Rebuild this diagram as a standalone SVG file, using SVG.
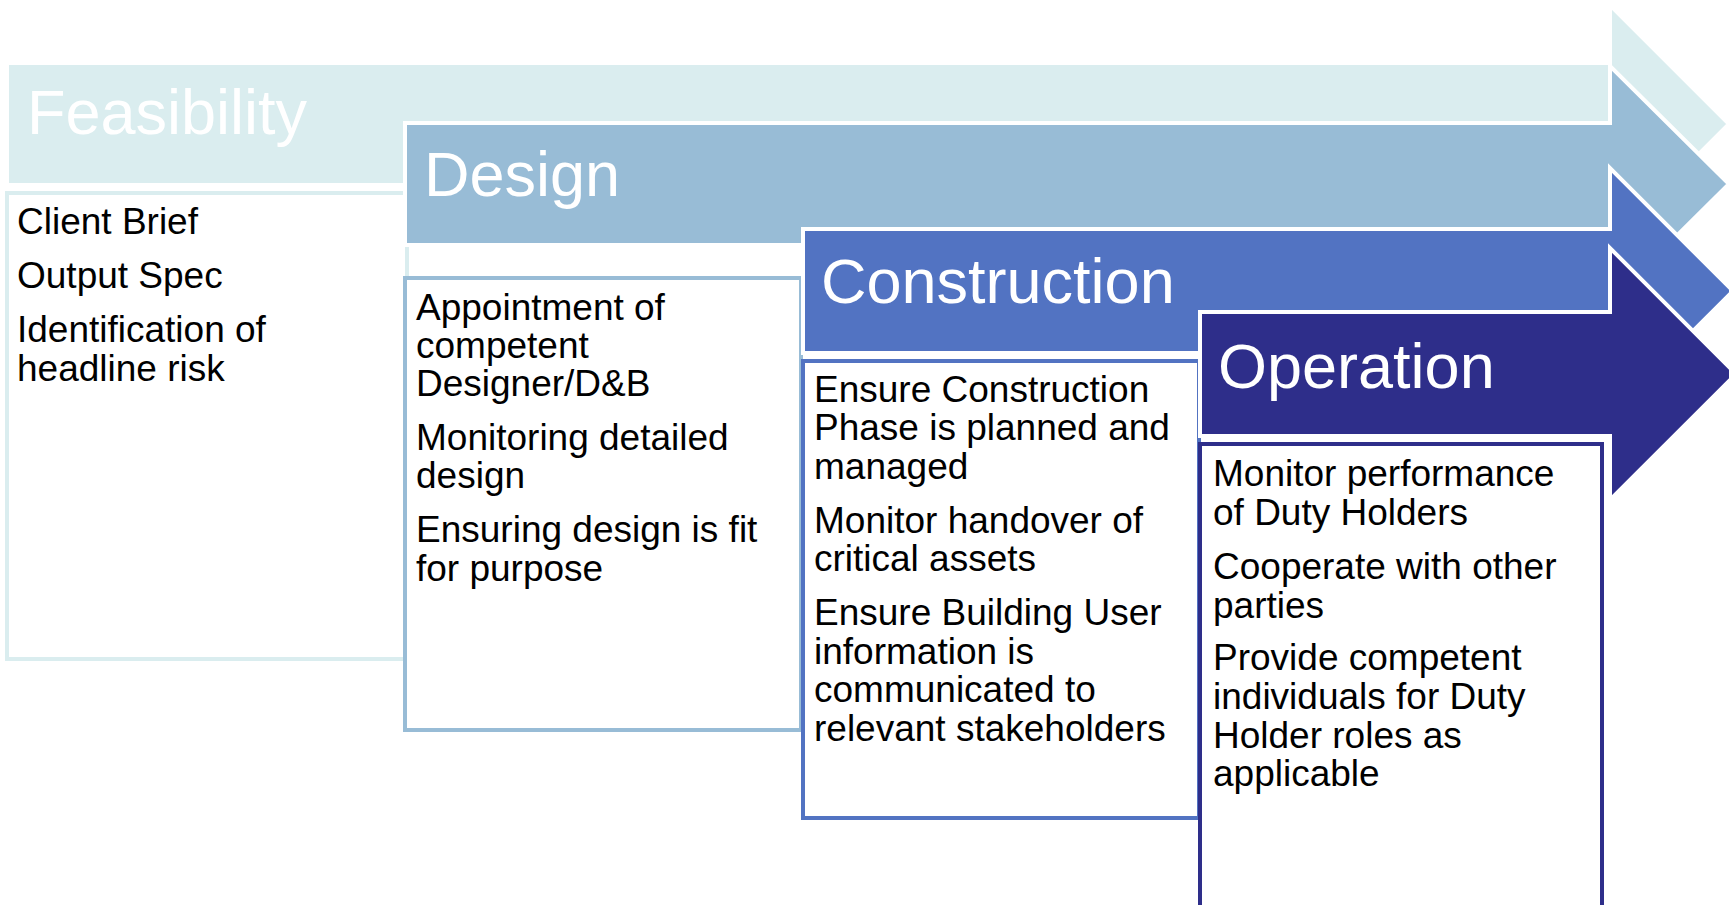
<svg xmlns="http://www.w3.org/2000/svg" width="1729" height="905" viewBox="0 0 1729 905">
<style>
.arrow{stroke:#FFFFFF;stroke-width:4;stroke-linejoin:miter}
.box{fill:#FFFFFF;stroke-width:4}
.title{font-family:"Liberation Sans",Arial,sans-serif;font-size:63px;fill:#FFFFFF}
.body{font-family:"Liberation Sans",Arial,sans-serif;font-size:37px;fill:#000000}
</style>
<rect width="1729" height="905" fill="#FFFFFF"/>
<g id="feasibility">
<path class="arrow" fill="#DAEDEF" d="M7,63 H1610 V5 L1729,124 L1610,243 V185 H7 Z"/>
<rect class="box" stroke="#DAEDEF" x="7" y="193" width="400" height="466"/>
<text class="title" x="27" y="134">Feasibility</text>
<text class="body" x="17" y="234">Client Brief</text>
<text class="body" x="17" y="288">Output Spec</text>
<text class="body" x="17" y="342">Identification of</text>
<text class="body" x="17" y="381">headline risk</text>
</g>
<g id="design">
<path class="arrow" fill="#98BCD6" d="M405,123 H1610 V66 L1729,184 L1610,302 V245 H405 Z"/>
<rect class="box" stroke="#98BCD6" x="405" y="278" width="396" height="452"/>
<text class="title" x="424" y="196">Design</text>
<text class="body" x="416" y="320">Appointment of</text>
<text class="body" x="416" y="358">competent</text>
<text class="body" x="416" y="396">Designer/D&amp;B</text>
<text class="body" x="416" y="450">Monitoring detailed</text>
<text class="body" x="416" y="488">design</text>
<text class="body" x="416" y="542">Ensuring design is fit</text>
<text class="body" x="416" y="581">for purpose</text>
</g>
<g id="construction">
<path class="arrow" fill="#5273C2" d="M803,229 H1610 V168 L1733,291 L1610,414 V353 H803 Z"/>
<rect class="box" stroke="#5273C2" x="803" y="361" width="396" height="457"/>
<text class="title" x="821" y="303">Construction</text>
<text class="body" x="814" y="402">Ensure Construction</text>
<text class="body" x="814" y="440">Phase is planned and</text>
<text class="body" x="814" y="479">managed</text>
<text class="body" x="814" y="533">Monitor handover of</text>
<text class="body" x="814" y="571">critical assets</text>
<text class="body" x="814" y="625">Ensure Building User</text>
<text class="body" x="814" y="664">information is</text>
<text class="body" x="814" y="702">communicated to</text>
<text class="body" x="814" y="741">relevant stakeholders</text>
</g>
<g id="operation">
<path class="arrow" fill="#2E2E8A" d="M1200,312 H1610 V248 L1736,374 L1610,500 V436 H1200 Z"/>
<rect class="box" stroke="#2E2E8A" x="1200" y="444" width="402" height="470"/>
<text class="title" x="1218" y="388">Operation</text>
<text class="body" x="1213" y="486">Monitor performance</text>
<text class="body" x="1213" y="525">of Duty Holders</text>
<text class="body" x="1213" y="579">Cooperate with other</text>
<text class="body" x="1213" y="618">parties</text>
<text class="body" x="1213" y="670">Provide competent</text>
<text class="body" x="1213" y="709">individuals for Duty</text>
<text class="body" x="1213" y="748">Holder roles as</text>
<text class="body" x="1213" y="786">applicable</text>
</g>
<g id="connectors"></g>
</svg>
